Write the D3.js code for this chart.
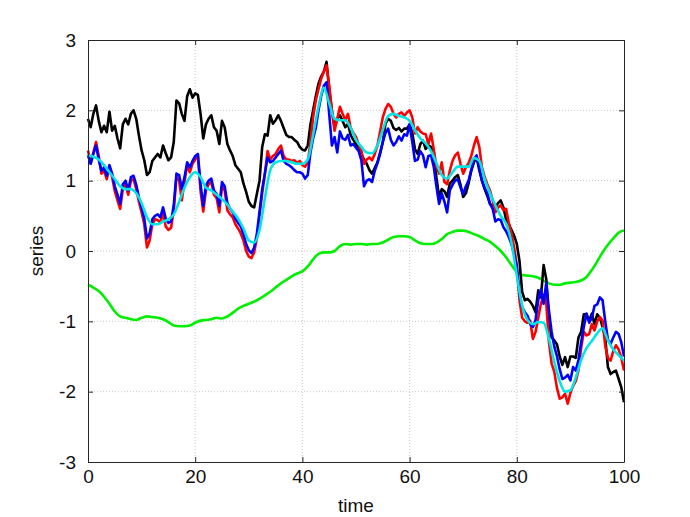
<!DOCTYPE html>
<html>
<head>
<meta charset="utf-8">
<script src="https://cdn.jsdelivr.net/npm/d3@7"></script>
<style>
  body { margin: 0; background: #fff; }
  text { font-family: "Liberation Sans", Arial, sans-serif; }
</style>
</head>
<body>
<script>
const w = 690
const h = 517
const m = {l: 88, r: 66, t: 40, b: 55}

// time grids: noisy series read every 0.5, smooth ones every 1
const tFine = d3.range(0, 100.01, 0.5)
const tCoarse = d3.range(0, 100.01, 1)
const xTicks = [0, 20, 40, 60, 80, 100]
const yTicks = [-3, -2, -1, 0, 1, 2, 3]

const black = [1.88,1.76,1.95,2.07,1.85,1.69,1.78,1.69,1.98,1.71,1.78,1.60,1.46,1.80,1.88,1.80,1.95,2.00,1.88,1.64,
  1.43,1.29,1.08,1.12,1.28,1.33,1.38,1.33,1.50,1.39,1.29,1.33,1.55,2.14,2.10,1.95,1.85,2.20,2.30,2.18,
  2.24,2.22,1.95,1.60,1.80,1.88,1.93,1.76,1.71,1.52,1.85,1.76,1.52,1.43,1.35,1.22,1.17,1.12,0.96,0.84,
  0.70,0.64,0.62,0.81,1.00,1.48,1.66,1.64,1.93,1.81,1.86,1.93,1.85,1.75,1.65,1.62,1.62,1.58,1.55,1.48,
  1.44,1.43,1.50,1.80,2.00,2.20,2.38,2.48,2.55,2.69,2.30,2.00,1.76,1.88,1.93,1.85,1.76,1.81,1.65,1.58,
  1.52,1.45,1.38,1.30,1.24,1.15,1.10,1.18,1.26,1.40,1.55,1.81,1.88,1.85,1.75,1.72,1.75,1.70,1.74,1.74,
  1.80,1.68,1.45,1.38,1.52,1.57,1.45,1.50,1.48,1.40,1.05,0.77,0.88,0.85,0.77,0.96,1.00,1.05,1.08,0.94,
  0.77,0.82,0.96,1.14,1.26,1.33,1.15,1.00,0.88,0.78,0.67,0.64,0.62,0.68,0.72,0.62,0.45,0.38,0.30,0.22,
  0.10,-0.14,-0.58,-0.70,-0.68,-0.72,-0.78,-0.87,-0.56,-0.66,-0.20,-0.40,-0.98,-1.23,-1.27,-1.33,-1.50,-1.62,-1.51,-1.65,
  -1.50,-1.50,-1.52,-1.23,-1.15,-0.90,-0.90,-0.99,-0.89,-1.04,-0.90,-0.95,-1.08,-1.23,-1.65,-1.75,-1.72,-1.70,-1.82,-1.94,
  -2.15]

const red = [1.43,1.25,1.40,1.55,1.35,1.10,1.15,1.02,1.18,1.05,0.85,0.72,0.60,0.88,0.95,0.80,1.00,1.02,0.88,0.70,
  0.55,0.38,0.05,0.15,0.38,0.45,0.44,0.40,0.55,0.35,0.30,0.33,0.58,1.05,1.00,0.72,0.98,1.22,1.12,1.24,
  1.30,1.35,0.85,0.56,0.86,0.95,0.98,0.80,0.75,0.55,0.92,0.86,0.58,0.52,0.48,0.38,0.32,0.25,0.15,0.00,
  -0.08,-0.10,-0.02,0.18,0.50,0.82,1.10,1.42,1.30,1.35,1.38,1.45,1.50,1.35,1.30,1.30,1.28,1.29,1.25,1.28,
  1.22,1.20,1.25,1.55,1.90,2.14,2.30,2.45,2.55,2.64,2.35,2.00,1.71,1.88,2.05,1.95,1.86,1.95,1.75,1.68,
  1.62,1.52,1.43,1.24,1.30,1.33,1.29,1.38,1.50,1.70,1.90,2.02,2.09,2.05,1.95,1.90,1.95,1.97,1.92,1.97,
  2.00,1.90,1.67,1.76,1.70,1.67,1.66,1.52,1.67,1.45,1.20,1.10,1.26,0.98,0.95,1.14,1.28,1.36,1.40,1.24,
  1.10,1.19,1.25,1.35,1.50,1.62,1.48,1.19,1.05,0.95,0.86,0.72,0.55,0.62,0.65,0.58,0.60,0.40,0.25,0.05,
  -0.20,-0.70,-0.95,-1.00,-1.02,-0.99,-1.25,-1.15,-0.95,-0.75,-0.62,-0.75,-1.30,-1.60,-1.72,-1.95,-2.10,-2.08,-2.03,-2.17,
  -2.02,-1.92,-1.85,-1.70,-1.38,-1.15,-1.20,-1.18,-1.04,-1.13,-1.00,-0.94,-0.99,-1.35,-1.52,-1.56,-1.42,-1.34,-1.40,-1.52,
  -1.70]

const blue = [1.36,1.24,1.38,1.50,1.30,1.14,1.19,1.07,1.22,1.10,0.92,0.80,0.67,0.95,1.00,0.86,1.05,1.07,0.94,0.76,
  0.62,0.46,0.18,0.25,0.45,0.50,0.52,0.48,0.62,0.46,0.40,0.42,0.65,1.10,1.08,0.88,1.05,1.26,1.19,1.28,
  1.35,1.38,0.95,0.64,0.93,1.00,1.03,0.86,0.81,0.64,0.98,0.92,0.68,0.60,0.55,0.46,0.40,0.35,0.24,0.10,
  0.01,-0.03,0.05,0.24,0.56,0.88,1.10,1.33,1.26,1.28,1.33,1.38,1.43,1.28,1.24,1.22,1.19,1.15,1.12,1.12,
  1.10,1.03,1.08,1.40,1.60,1.75,2.00,2.20,2.35,2.40,1.95,1.50,1.62,1.40,1.70,1.60,1.58,1.65,1.50,1.52,
  1.47,1.42,1.29,0.92,1.00,1.02,0.98,1.14,1.25,1.38,1.55,1.68,1.74,1.58,1.50,1.55,1.63,1.57,1.66,1.64,
  1.80,1.55,1.28,1.30,1.42,1.36,1.19,1.35,1.36,1.20,0.92,0.67,0.82,0.70,0.55,0.86,0.94,1.00,1.02,0.90,
  0.81,0.92,1.00,1.15,1.30,1.36,1.19,1.00,0.90,0.82,0.67,0.60,0.42,0.45,0.44,0.34,0.28,0.20,0.10,-0.05,
  -0.23,-0.60,-0.80,-0.87,-0.92,-1.04,-1.08,-0.98,-0.70,-0.55,-0.75,-0.45,-0.85,-1.15,-1.36,-1.50,-1.68,-1.82,-1.80,-1.76,
  -1.84,-1.65,-1.70,-1.55,-1.30,-1.08,-0.89,-1.02,-0.95,-0.78,-0.76,-0.66,-0.70,-1.00,-1.26,-1.32,-1.23,-1.15,-1.18,-1.30,
  -1.50]

const cyan = [1.36,1.34,1.30,1.22,1.12,1.02,0.92,0.88,0.88,0.82,
  0.68,0.48,0.38,0.38,0.42,0.45,0.52,0.70,0.90,1.05,
  1.12,1.05,0.90,0.86,0.80,0.74,0.66,0.56,0.46,0.32,
  0.15,0.12,0.30,0.75,1.15,1.26,1.28,1.28,1.26,1.24,
  1.24,1.30,1.65,2.05,2.32,2.10,1.88,1.86,1.86,1.75,
  1.58,1.48,1.40,1.39,1.50,1.72,1.92,1.95,1.92,1.90,
  1.85,1.72,1.60,1.53,1.42,1.25,1.08,1.03,1.12,1.20,
  1.20,1.20,1.32,1.28,1.02,0.82,0.65,0.50,0.39,0.12,
  -0.35,-0.78,-0.98,-1.04,-1.01,-1.02,-1.25,-1.58,-1.85,-2.00,
  -1.98,-1.80,-1.55,-1.38,-1.28,-1.17,-1.10,-1.27,-1.40,-1.48,
  -1.56]

const green = [-0.48,-0.52,-0.57,-0.65,-0.75,-0.86,-0.93,-0.95,-0.97,-0.98,
  -0.95,-0.93,-0.94,-0.95,-0.97,-1.01,-1.06,-1.07,-1.07,-1.06,
  -1.02,-0.99,-0.98,-0.97,-0.95,-0.96,-0.93,-0.88,-0.82,-0.78,
  -0.75,-0.72,-0.68,-0.63,-0.58,-0.52,-0.46,-0.41,-0.36,-0.32,
  -0.29,-0.22,-0.12,-0.04,-0.02,-0.02,0.00,0.07,0.10,0.09,
  0.10,0.10,0.09,0.10,0.10,0.12,0.16,0.20,0.21,0.21,
  0.20,0.15,0.11,0.10,0.10,0.12,0.17,0.24,0.27,0.29,
  0.29,0.27,0.24,0.21,0.17,0.13,0.07,0.00,-0.09,-0.20,
  -0.30,-0.34,-0.35,-0.36,-0.38,-0.42,-0.46,-0.48,-0.48,-0.46,
  -0.45,-0.44,-0.42,-0.37,-0.27,-0.15,-0.02,0.09,0.18,0.26,
  0.29]

const svg = d3.select('body').append('svg').attr('width', w).attr('height', h)

const x = d3.scaleLinear().domain([0, 100]).range([m.l, w - m.r])
const y = d3.scaleLinear().domain([-3, 3]).range([h - m.b, m.t])

// dotted grid
svg.append('g').selectAll('line').data(xTicks.slice(1, -1)).enter().append('line')
  .attr('x1', d => x(d)).attr('x2', d => x(d)).attr('y1', y(-3)).attr('y2', y(3))
  .attr('stroke', '#c8c8c8').attr('stroke-dasharray', '1,2')
svg.append('g').selectAll('line').data(yTicks.slice(1, -1)).enter().append('line')
  .attr('y1', d => y(d)).attr('y2', d => y(d)).attr('x1', x(0)).attr('x2', x(100))
  .attr('stroke', '#c8c8c8').attr('stroke-dasharray', '1,2')

// series
const series = [
  {t: tCoarse, v: green, c: '#00ee00'},
  {t: tFine, v: black, c: '#000000'},
  {t: tFine, v: red, c: '#ff0000'},
  {t: tFine, v: blue, c: '#0000ff'},
  {t: tCoarse, v: cyan, c: '#00e5e5'}
]
series.forEach(s => {
  const smooth = s.t === tCoarse
  const line = d3.line().x((d, i) => x(s.t[i])).y(d => y(d))
    .curve(smooth ? d3.curveMonotoneX : d3.curveLinear)
  svg.append('path').datum(s.v)
    .attr('d', line)
    .attr('fill', 'none')
    .attr('stroke', s.c)
    .attr('stroke-width', 2.6)
    .attr('stroke-linejoin', 'round')
})

// frame + axes (plain hyphen minus like the original)
const fmt = d => String(d)
const axColor = '#262626'
function style(g) {
  g.select('.domain').attr('stroke', axColor)
  g.selectAll('.tick line').attr('stroke', axColor)
  g.selectAll('text').attr('fill', '#111').style('font-size', '19px')
}
svg.append('g').attr('transform', 'translate(0,' + y(-3) + ')')
  .call(d3.axisBottom(x).tickValues(xTicks).tickFormat(fmt).tickSize(-5).tickSizeOuter(0).tickPadding(8))
  .call(style)
svg.append('g').attr('transform', 'translate(0,' + y(3) + ')')
  .call(d3.axisTop(x).tickValues(xTicks).tickFormat('').tickSize(-5).tickSizeOuter(0))
  .call(style)
svg.append('g').attr('transform', 'translate(' + x(0) + ',0)')
  .call(d3.axisLeft(y).tickValues(yTicks).tickFormat(fmt).tickSize(-5).tickSizeOuter(0).tickPadding(12))
  .call(style)
svg.append('g').attr('transform', 'translate(' + x(100) + ',0)')
  .call(d3.axisRight(y).tickValues(yTicks).tickFormat('').tickSize(-5).tickSizeOuter(0))
  .call(style)

svg.append('text').attr('x', (x(0) + x(100)) / 2).attr('y', 512)
  .attr('text-anchor', 'middle').style('font-size', '19px').attr('fill', '#111').text('time')
svg.append('text').attr('transform', 'translate(43,' + y(0) + ') rotate(-90)')
  .attr('text-anchor', 'middle').style('font-size', '19px').attr('fill', '#111').text('series')
</script>
</body>
</html>
